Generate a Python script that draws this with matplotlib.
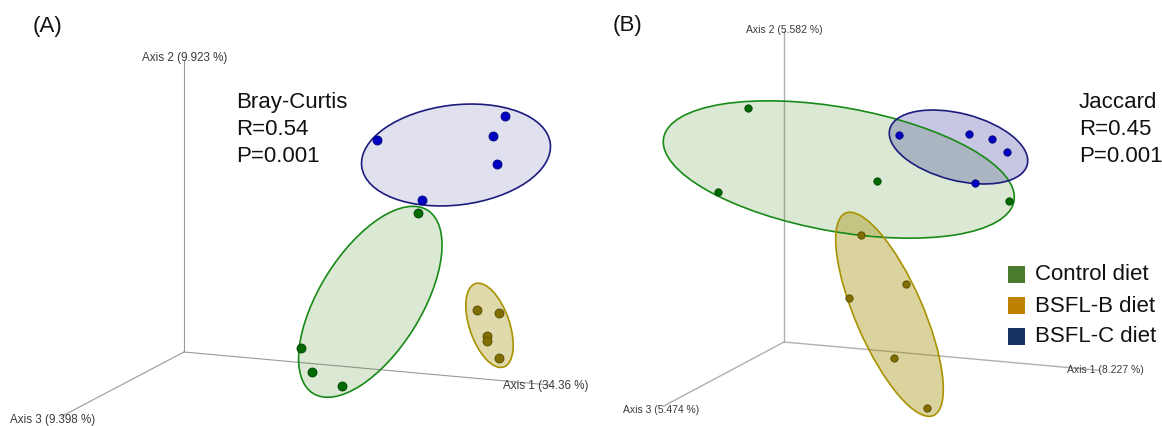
import matplotlib
matplotlib.use("Agg")
import matplotlib.pyplot as plt
from matplotlib.patches import Ellipse, Rectangle

plt.rcParams['font.family'] = ['Liberation Sans', 'DejaVu Sans']

# ---- Panel A: Bray-Curtis PCoA (projected ordination coordinates) ----
bc_axis_labels = ["Axis 1 (34.36 %)", "Axis 2 (9.923 %)", "Axis 3 (9.398 %)"]
bc_stats = ["Bray-Curtis", "R=0.54", "P=0.001"]
bc_control_x = [234, 117, 128, 158]
bc_control_y = [138.7, 4, -20, -34]
bc_bsflb_x = [293.3, 315, 303, 303, 315]
bc_bsflb_y = [42, 39, 16, 11, -6]
bc_bsflc_x = [193.3, 321, 308.7, 312.7, 238.3]
bc_bsflc_y = [212, 236.3, 216.3, 188, 151.7]
# group ellipses: (centre x, centre y, width, height, angle)
bc_ell_control = (186.3, 50.2, 216, 102, 58)
bc_ell_bsflb = (305.5, 26.7, 88, 40, 108.9)
bc_ell_bsflc = (272, 197, 190, 100, 7)

# ---- Panel B: Jaccard PCoA ----
jc_axis_labels = ["Axis 1 (8.227 %)", "Axis 2 (5.582 %)", "Axis 3 (5.474 %)"]
jc_stats = ["Jaccard", "R=0.45", "P=0.001"]
jc_control_x = [-35.7, -66.3, 93, 225]
jc_control_y = [233.7, 149.7, 161, 141.3]
jc_bsflb_x = [76.7, 122, 65.3, 110, 143.3]
jc_bsflb_y = [107, 58, 44, -15.7, -66]
jc_bsflc_x = [115, 185, 208.3, 223, 191.3]
jc_bsflc_y = [206.7, 207.7, 203, 189.7, 159]
jc_ell_control = (54.8, 172.5, 356, 124, -10.2)
jc_ell_bsflb = (105.5, 27.7, 220.6, 67.6, 113.5)
jc_ell_bsflc = (174.5, 195, 142, 67, -14.5)

groups = ["Control diet", "BSFL-B diet", "BSFL-C diet"]
legend_colors = ["#4a7c2e", "#be8200", "#143264"]

point_face = {"ctrl": "#006a00", "b": "#806e00", "c": "#0000c0"}
point_edge = {"ctrl": "#004400", "b": "#574a00", "c": "#00007a"}
ell_edge = {"ctrl": "#178a17", "b": "#a89200", "c": "#1c1c7e"}
ell_fill = {"ctrl": (76/255, 140/255, 43/255), "b": (160/255, 140/255, 0), "c": (0, 0, 128/255)}

fig = plt.figure(figsize=(11.62, 4.27), dpi=100)
axA = fig.add_axes([0, 0, 0.5, 1])
axB = fig.add_axes([0.5, 0, 0.5, 1])
axA.set_xlim(-184, 397); axA.set_ylim(-74, 353)
axB.set_xlim(-203, 378); axB.set_ylim(-84, 343)
for ax in (axA, axB):
    ax.set_axis_off()


def draw_panel(ax, tag, tag_pos, axes_ends, labels, label_pos, label_size, axis_lw, axis_color,
               ells, fill_alpha, pts, msize, stats, stats_x, stats_y):
    ax.text(tag_pos[0], tag_pos[1], tag, fontsize=16, ha='left', va='baseline', color='#111111')
    # ordination axes drawn from the origin
    for (ex, ey) in axes_ends:
        ax.plot([0, ex], [0, ey], color=axis_color, lw=axis_lw, zorder=1)
    for lab, (lx, ly, ha) in zip(labels, label_pos):
        ax.text(lx, ly, lab, fontsize=label_size, ha=ha, va='center', color='#3a3a3a', zorder=5)
    for key, (cx, cy, w, h, ang) in ells.items():
        ax.add_patch(Ellipse((cx, cy), w, h, angle=ang, facecolor=ell_fill[key],
                             alpha=fill_alpha[key], edgecolor='none', zorder=2))
        ax.add_patch(Ellipse((cx, cy), w, h, angle=ang, facecolor='none',
                             edgecolor=ell_edge[key], lw=1.2, zorder=3))
    for key, (xs, ys) in pts.items():
        ax.scatter(xs, ys, s=msize, color=point_face[key], edgecolors=point_edge[key],
                   linewidths=0.6, zorder=4)
    for i, line in enumerate(stats):
        ax.text(stats_x, stats_y[i], line, fontsize=16, ha='left', va='baseline', color='#111111')


draw_panel(axA, "(A)", (-151.3, 321.3),
           [(366, -33), (0, 292), (-122.3, -64.3)],
           bc_axis_labels,
           [(319, -33, 'left'), (0.8, 295, 'center'), (-174, -67, 'left')],
           8.4, 0.8, '#9a9a9a',
           {"ctrl": bc_ell_control, "b": bc_ell_bsflb, "c": bc_ell_bsflc},
           {"ctrl": 0.2, "b": 0.33, "c": 0.12},
           {"ctrl": (bc_control_x, bc_control_y), "b": (bc_bsflb_x, bc_bsflb_y),
            "c": (bc_bsflc_x, bc_bsflc_y)},
           42, bc_stats, 52, [245, 218, 191])

draw_panel(axB, "(B)", (-171, 311.5),
           [(316, -28.4), (0, 311), (-120.7, -64.3)],
           jc_axis_labels,
           [(283, -27, 'left'), (0, 313, 'center'), (-161.3, -67, 'left')],
           7.5, 1.0, '#b0b0b0',
           {"ctrl": jc_ell_control, "b": jc_ell_bsflb, "c": jc_ell_bsflc},
           {"ctrl": 0.2, "b": 0.38, "c": 0.22},
           {"ctrl": (jc_control_x, jc_control_y), "b": (jc_bsflb_x, jc_bsflb_y),
            "c": (jc_bsflc_x, jc_bsflc_y)},
           28, jc_stats, 295, [235, 208, 181])

# group legend (colour keys)
leg_y = [68, 37, 6]
for name, col, yy in zip(groups, legend_colors, leg_y):
    axB.add_patch(Rectangle((224, yy - 8.5), 17, 17, facecolor=col, edgecolor='none', zorder=5))
    axB.text(251, yy, name, fontsize=16, ha='left', va='center', color='#111111')

fig.savefig("out.png", dpi=100)
